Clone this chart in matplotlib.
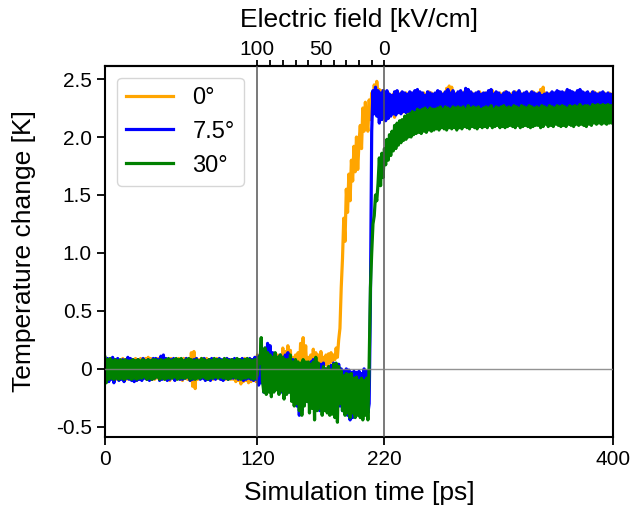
import numpy as np
import matplotlib
matplotlib.use("Agg")
import matplotlib.pyplot as plt

plt.rcParams['font.family'] = ['Liberation Sans', 'DejaVu Sans']

# Sampling of the simulated temperature traces (ps)
time_ps = np.arange(0, 401, 1)

# Temperature change [K] for three field angles, one value per ps
temp_0deg = [
    0.07, -0.09, 0.08, -0.10, 0.08, -0.08, 0.09, -0.10, 0.07, -0.09, 0.08, -0.09, 0.07, -0.08, 0.09, -0.10, 0.08, -0.09, 0.09, -0.08,
    0.08, -0.09, 0.07, -0.08, 0.09, -0.10, 0.08, -0.09, 0.09, -0.08, 0.08, -0.08, 0.09, -0.09, 0.10, -0.08, 0.09, -0.09, 0.08, -0.09,
    0.08, -0.08, 0.09, -0.09, 0.10, -0.08, 0.09, -0.09, 0.08, -0.09, 0.08, -0.10, 0.09, -0.08, 0.08, -0.09, 0.07, -0.08, 0.09, -0.09,
    0.08, -0.10, 0.09, -0.08, 0.09, -0.09, 0.08, -0.10, 0.14, -0.15, 0.15, -0.17, 0.09, -0.09, 0.08, -0.08, 0.09, -0.08, 0.08, -0.09,
    0.09, -0.08, 0.08, -0.09, 0.07, -0.09, 0.08, -0.08, 0.09, -0.08, 0.08, -0.09, 0.07, -0.08, 0.08, -0.09, 0.09, -0.08, 0.08, -0.09,
    0.08, -0.09, 0.07, -0.11, 0.08, -0.10, 0.07, -0.13, 0.08, -0.11, 0.09, -0.10, 0.08, -0.12, 0.07, -0.11, 0.08, -0.10, 0.09, -0.11,
    0.12, -0.10, 0.10, -0.08, 0.08, -0.12, 0.06, -0.09, 0.10, -0.18, 0.12, -0.14, 0.06, -0.10, 0.09, -0.08, 0.12, -0.08, 0.10, -0.09,
    0.18, -0.06, 0.15, -0.08, 0.20, -0.10, 0.16, -0.12, 0.10, -0.08, 0.12, -0.06, 0.14, -0.05, 0.22, -0.02, 0.27, 0.00, 0.20, -0.04,
    0.10, -0.06, 0.12, -0.04, 0.17, 0.00, 0.14, -0.02, 0.12, 0.02, 0.15, 0.00, 0.10, 0.04, 0.12, 0.03, 0.13, 0.05, 0.14, 0.06,
    0.12, 0.08, 0.18, 0.10, 0.25, 0.35, 0.70, 0.95, 1.30, 1.10, 1.55, 1.35, 1.68, 1.45, 1.80, 1.62, 1.92, 1.70, 2.00, 1.72,
    1.95, 2.10, 1.90, 2.25, 2.05, 2.30, 2.15, 2.05, 2.32, 2.15, 2.38, 2.25, 2.45, 2.30, 2.48, 2.36, 2.41, 2.24, 2.40, 2.22,
    2.20, 2.37, 2.16, 2.38, 2.18, 2.36, 2.21, 2.37, 2.17, 2.39, 2.21, 2.37, 2.22, 2.38, 2.21, 2.36, 2.22, 2.38, 2.21, 2.37,
    2.22, 2.38, 2.21, 2.37, 2.23, 2.38, 2.20, 2.39, 2.22, 2.37, 2.21, 2.38, 2.22, 2.37, 2.21, 2.39, 2.22, 2.38, 2.20, 2.37,
    2.21, 2.38, 2.22, 2.39, 2.21, 2.37, 2.22, 2.38, 2.21, 2.42, 2.30, 2.44, 2.32, 2.43, 2.22, 2.38, 2.21, 2.37, 2.22, 2.38,
    2.21, 2.37, 2.22, 2.39, 2.20, 2.38, 2.22, 2.37, 2.21, 2.38, 2.22, 2.37, 2.21, 2.38, 2.22, 2.39, 2.21, 2.37, 2.22, 2.38,
    2.22, 2.38, 2.21, 2.37, 2.20, 2.40, 2.22, 2.38, 2.21, 2.37, 2.22, 2.38, 2.21, 2.37, 2.22, 2.39, 2.21, 2.38, 2.22, 2.37,
    2.22, 2.38, 2.21, 2.39, 2.22, 2.37, 2.20, 2.38, 2.22, 2.37, 2.21, 2.38, 2.22, 2.37, 2.21, 2.38, 2.22, 2.39, 2.21, 2.37,
    2.21, 2.38, 2.22, 2.41, 2.30, 2.43, 2.22, 2.38, 2.21, 2.37, 2.22, 2.38, 2.21, 2.37, 2.22, 2.38, 2.21, 2.39, 2.22, 2.37,
    2.21, 2.37, 2.22, 2.39, 2.20, 2.40, 2.22, 2.37, 2.21, 2.38, 2.22, 2.37, 2.21, 2.38, 2.22, 2.37, 2.21, 2.38, 2.22, 2.37,
    2.22, 2.37, 2.21, 2.38, 2.22, 2.39, 2.20, 2.37, 2.22, 2.38, 2.21, 2.37, 2.22, 2.38, 2.21, 2.37, 2.22, 2.38, 2.21, 2.37,
    2.21,
]

temp_7p5deg = [
    0.08, -0.10, 0.09, -0.11, 0.07, -0.09, 0.10, -0.12, 0.08, -0.08, 0.09, -0.10, 0.06, -0.09, 0.08, -0.11, 0.07, -0.08, 0.10, -0.09,
    0.09, -0.10, 0.08, -0.11, 0.07, -0.10, 0.08, -0.09, 0.06, -0.10, 0.09, -0.08, 0.07, -0.09, 0.08, -0.10, 0.07, -0.09, 0.09, -0.08,
    0.09, -0.07, 0.08, -0.10, 0.11, -0.09, 0.12, -0.08, 0.09, -0.10, 0.07, -0.09, 0.08, -0.07, 0.09, -0.10, 0.07, -0.08, 0.06, -0.09,
    0.08, -0.09, 0.07, -0.08, 0.09, -0.07, 0.08, -0.10, 0.07, -0.09, 0.08, -0.08, 0.09, -0.07, 0.07, -0.09, 0.08, -0.08, 0.09, -0.10,
    0.07, -0.09, 0.08, -0.10, 0.09, -0.08, 0.07, -0.09, 0.08, -0.07, 0.09, -0.09, 0.08, -0.10, 0.07, -0.08, 0.09, -0.09, 0.08, -0.08,
    0.08, -0.08, 0.09, -0.07, 0.07, -0.09, 0.08, -0.08, 0.09, -0.10, 0.08, -0.09, 0.07, -0.08, 0.09, -0.09, 0.08, -0.10, 0.10, -0.09,
    0.10, -0.14, 0.12, -0.12, 0.15, -0.20, 0.18, -0.16, 0.22, -0.15, 0.20, -0.15, 0.14, -0.18, 0.12, -0.16, 0.10, -0.18, 0.12, -0.20,
    0.10, -0.22, 0.12, -0.18, 0.14, -0.20, 0.10, -0.24, 0.08, -0.28, 0.06, -0.32, 0.05, -0.40, 0.04, -0.36, 0.06, -0.30, 0.05, -0.28,
    0.04, -0.30, 0.06, -0.28, 0.08, -0.32, 0.03, -0.34, 0.02, -0.36, 0.04, -0.30, 0.05, -0.32, 0.00, -0.30, -0.02, -0.34, 0.03, -0.36,
    0.05, -0.38, 0.02, -0.34, 0.04, -0.32, 0.00, -0.36, -0.02, -0.38, 0.00, -0.40, -0.01, -0.44, -0.03, -0.42, -0.02, -0.40, -0.03, -0.38,
    -0.02, -0.38, -0.04, -0.36, 0.00, -0.34, -0.02, -0.38, -0.30, 0.60, 2.05, 2.40, 2.20, 2.43, 2.18, 2.40, 2.12, 2.38, 2.15, 2.40,
    2.38, 2.14, 2.40, 2.16, 2.37, 2.18, 2.36, 2.20, 2.39, 2.19, 2.40, 2.21, 2.37, 2.20, 2.39, 2.22, 2.38, 2.21, 2.37, 2.22,
    2.39, 2.21, 2.38, 2.23, 2.40, 2.20, 2.41, 2.22, 2.39, 2.21, 2.38, 2.22, 2.36, 2.21, 2.39, 2.23, 2.38, 2.20, 2.37, 2.21,
    2.38, 2.22, 2.40, 2.20, 2.39, 2.21, 2.37, 2.23, 2.39, 2.22, 2.41, 2.21, 2.38, 2.22, 2.40, 2.20, 2.37, 2.21, 2.39, 2.22,
    2.40, 2.21, 2.38, 2.22, 2.42, 2.20, 2.41, 2.22, 2.39, 2.23, 2.37, 2.21, 2.38, 2.22, 2.39, 2.20, 2.37, 2.22, 2.38, 2.21,
    2.38, 2.22, 2.40, 2.21, 2.41, 2.20, 2.37, 2.22, 2.39, 2.21, 2.38, 2.22, 2.36, 2.21, 2.38, 2.20, 2.39, 2.22, 2.38, 2.21,
    2.36, 2.22, 2.39, 2.21, 2.38, 2.23, 2.40, 2.21, 2.37, 2.20, 2.38, 2.22, 2.39, 2.21, 2.37, 2.22, 2.39, 2.20, 2.38, 2.22,
    2.37, 2.21, 2.38, 2.22, 2.36, 2.20, 2.37, 2.21, 2.38, 2.22, 2.37, 2.21, 2.39, 2.22, 2.38, 2.20, 2.40, 2.21, 2.39, 2.22,
    2.39, 2.22, 2.38, 2.20, 2.41, 2.23, 2.40, 2.21, 2.39, 2.22, 2.38, 2.21, 2.40, 2.22, 2.41, 2.20, 2.39, 2.22, 2.38, 2.21,
    2.39, 2.21, 2.37, 2.22, 2.39, 2.20, 2.38, 2.22, 2.37, 2.21, 2.38, 2.22, 2.39, 2.21, 2.37, 2.20, 2.38, 2.22, 2.37, 2.21,
    2.36,
]

temp_30deg = [
    0.10, -0.12, 0.08, -0.09, 0.09, -0.08, 0.07, -0.09, 0.08, -0.08, 0.07, -0.09, 0.08, -0.08, 0.07, -0.09, 0.08, -0.08, 0.07, -0.08,
    0.07, -0.09, 0.08, -0.08, 0.07, -0.09, 0.08, -0.08, 0.07, -0.08, 0.08, -0.07, 0.07, -0.09, 0.08, -0.08, 0.07, -0.09, 0.08, -0.08,
    0.08, -0.07, 0.07, -0.09, 0.08, -0.08, 0.07, -0.09, 0.08, -0.08, 0.09, -0.08, 0.07, -0.08, 0.08, -0.07, 0.09, -0.09, 0.08, -0.08,
    0.09, -0.08, 0.07, -0.08, 0.08, -0.07, 0.09, -0.09, 0.08, -0.08, 0.07, -0.09, 0.08, -0.08, 0.07, -0.08, 0.09, -0.07, 0.08, -0.08,
    0.07, -0.09, 0.08, -0.08, 0.07, -0.08, 0.09, -0.07, 0.08, -0.08, 0.08, -0.07, 0.07, -0.08, 0.09, -0.08, 0.08, -0.09, 0.07, -0.08,
    0.08, -0.07, 0.07, -0.08, 0.09, -0.08, 0.08, -0.09, 0.07, -0.08, 0.08, -0.08, 0.09, -0.07, 0.08, -0.08, 0.07, -0.09, 0.08, -0.08,
    -0.05, 0.10, 0.05, 0.27, -0.10, -0.20, 0.18, -0.22, 0.14, -0.20, 0.12, -0.24, 0.10, -0.20, 0.14, -0.18, 0.10, -0.22, 0.12, -0.19,
    0.10, -0.26, 0.08, -0.22, 0.08, -0.20, 0.12, -0.28, 0.06, -0.32, 0.08, -0.30, 0.06, -0.36, 0.05, -0.40, 0.08, -0.32, 0.06, -0.28,
    0.06, -0.38, 0.04, -0.34, 0.06, -0.44, 0.10, -0.36, 0.05, -0.34, -0.02, -0.40, 0.02, -0.36, 0.00, -0.38, 0.02, -0.40, -0.01, -0.39,
    0.04, -0.42, 0.05, -0.46, 0.02, -0.30, -0.02, -0.36, -0.06, -0.40, -0.04, -0.38, -0.05, -0.42, -0.04, -0.38, -0.08, -0.42, -0.07, -0.40,
    -0.10, -0.42, -0.08, -0.44, -0.10, -0.40, -0.08, -0.44, 0.05, 0.70, 1.00, 1.25, 1.32, 1.50, 1.45, 1.60, 1.82, 1.58, 1.86, 1.65,
    1.90, 1.76, 1.98, 1.80, 2.02, 1.84, 2.05, 1.88, 2.10, 1.90, 2.12, 1.93, 2.14, 1.95, 2.15, 1.97, 2.18, 1.98, 2.19, 2.00,
    2.20, 2.00, 2.22, 2.02, 2.21, 2.03, 2.24, 2.04, 2.23, 2.03, 2.24, 2.05, 2.25, 2.04, 2.23, 2.06, 2.25, 2.05, 2.24, 2.06,
    2.24, 2.07, 2.25, 2.06, 2.26, 2.08, 2.24, 2.07, 2.26, 2.06, 2.25, 2.08, 2.24, 2.07, 2.26, 2.08, 2.25, 2.06, 2.26, 2.08,
    2.25, 2.07, 2.26, 2.09, 2.24, 2.08, 2.27, 2.07, 2.25, 2.09, 2.26, 2.08, 2.25, 2.07, 2.26, 2.09, 2.24, 2.08, 2.25, 2.09,
    2.26, 2.08, 2.25, 2.10, 2.27, 2.08, 2.24, 2.09, 2.26, 2.10, 2.25, 2.08, 2.26, 2.09, 2.27, 2.08, 2.25, 2.09, 2.26, 2.10,
    2.25, 2.09, 2.27, 2.08, 2.26, 2.10, 2.25, 2.08, 2.27, 2.09, 2.26, 2.10, 2.25, 2.09, 2.27, 2.08, 2.26, 2.09, 2.25, 2.10,
    2.26, 2.10, 2.25, 2.08, 2.27, 2.09, 2.26, 2.11, 2.25, 2.09, 2.27, 2.10, 2.26, 2.09, 2.25, 2.11, 2.27, 2.10, 2.26, 2.09,
    2.27, 2.10, 2.26, 2.09, 2.25, 2.11, 2.27, 2.10, 2.26, 2.09, 2.27, 2.11, 2.26, 2.10, 2.28, 2.11, 2.26, 2.10, 2.27, 2.09,
    2.27, 2.11, 2.26, 2.10, 2.28, 2.12, 2.27, 2.11, 2.28, 2.12, 2.27, 2.11, 2.28, 2.12, 2.27, 2.11, 2.28, 2.12, 2.27, 2.12,
    2.27,
]

series = [temp_0deg, temp_7p5deg, temp_30deg]
series_labels = ['0°', '7.5°', '30°']
series_colors = ['orange', 'blue', 'green']

x_ticks = [0, 120, 220, 400]
y_ticks = [-0.5, 0, 0.5, 1.0, 1.5, 2.0, 2.5]
y_tick_labels = ['-0.5', '0', '0.5', '1.0', '1.5', '2.0', '2.5']

# Field ramp: 100 kV/cm at 120 ps down to 0 kV/cm at 220 ps
ramp_start_ps = 120
ramp_end_ps = 220
field_ticks = [100, 50, 0]
field_minor_ticks = [90, 80, 70, 60, 40, 30, 20, 10]

fig = plt.figure(figsize=(6.33, 5.16), dpi=100)
ax = fig.add_axes([105 / 633, 1 - 437.3 / 516, 508 / 633, (437.3 - 65.7) / 516])

for values, label, color in zip(series, series_labels, series_colors):
    ax.plot(time_ps, values, color=color, lw=2.3, label=label, zorder=2)

ax.axvline(ramp_start_ps, color='#555555', lw=1.1, zorder=4)
ax.axvline(ramp_end_ps, color='#555555', lw=1.1, zorder=4)
ax.axhline(0, color='#808080', lw=1.0, alpha=0.85, zorder=4)

ax.set_xlim(0, 400)
ax.set_ylim(-0.59, 2.615)
ax.set_xticks(x_ticks)
ax.set_yticks(y_ticks)
ax.set_yticklabels(y_tick_labels)
ax.tick_params(axis='both', labelsize=15, length=6, width=1.3, direction='out')
for spine in ax.spines.values():
    spine.set_linewidth(1.5)

ax.set_xlabel('Simulation time [ps]', fontsize=19, labelpad=8)
ax.set_ylabel('Temperature change [K]', fontsize=19, labelpad=14)


def time_to_field(t):
    return (ramp_end_ps - np.asarray(t, dtype=float)) * 100.0 / (ramp_end_ps - ramp_start_ps)


def field_to_time(f):
    return ramp_end_ps - np.asarray(f, dtype=float) * (ramp_end_ps - ramp_start_ps) / 100.0


secax = ax.secondary_xaxis('top', functions=(time_to_field, field_to_time))
secax.set_xticks(field_ticks)
secax.set_xticklabels([str(v) for v in field_ticks])
secax.set_xticks(field_minor_ticks, minor=True)
secax.tick_params(axis='x', which='major', labelsize=15, length=4, width=1.3, pad=1)
secax.tick_params(axis='x', which='minor', length=4, width=1.3)
secax.spines['top'].set_linewidth(1.5)
secax.set_xlabel('Electric field [kV/cm]', fontsize=19, labelpad=9)

leg = ax.legend(loc='upper left', fontsize=17, handlelength=2.0)
for line in leg.get_lines():
    line.set_linewidth(2.3)

fig.savefig('out.png', dpi=100)
